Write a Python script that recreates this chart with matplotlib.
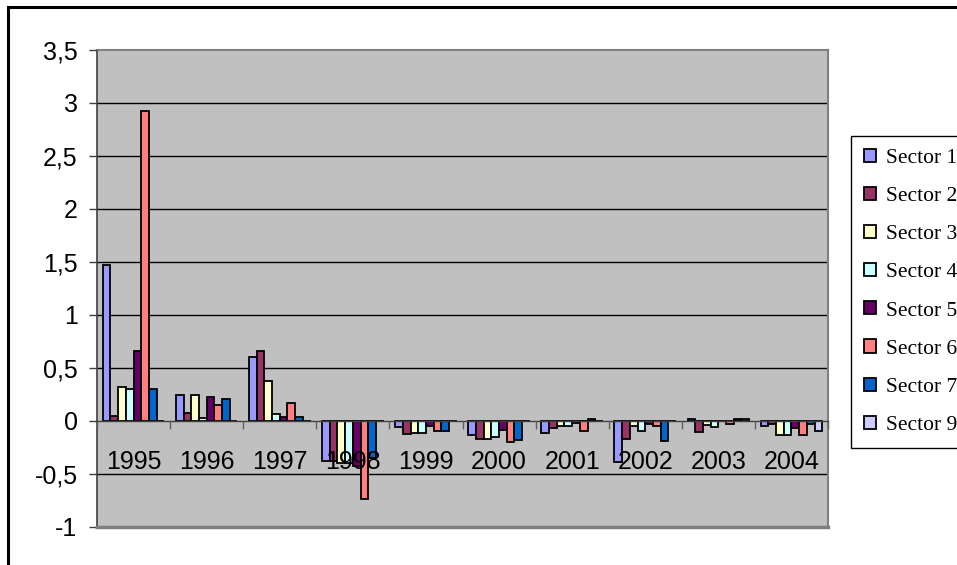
import matplotlib
matplotlib.use("Agg")
import matplotlib.pyplot as plt
import matplotlib.patches as mpatches
from matplotlib.ticker import FixedLocator, FuncFormatter
import numpy as np

# Yearly changes per sector
years = ["1995", "1996", "1997", "1998", "1999", "2000", "2001", "2002", "2003", "2004"]
sector_names = ["Sector 1", "Sector 2", "Sector 3", "Sector 4",
                "Sector 5", "Sector 6", "Sector 7", "Sector 9"]

sector_1 = [1.47, 0.245, 0.60, -0.38, -0.06, -0.13, -0.11, -0.39, 0.015, -0.05]
sector_2 = [0.05, 0.08, 0.66, -0.38, -0.12, -0.17, -0.07, -0.17, -0.10, -0.03]
sector_3 = [0.32, 0.245, 0.38, -0.40, -0.11, -0.17, -0.05, -0.045, -0.04, -0.13]
sector_4 = [0.30, 0.025, 0.07, -0.40, -0.11, -0.15, -0.05, -0.09, -0.06, -0.13]
sector_5 = [0.66, 0.23, 0.04, -0.42, -0.045, -0.085, -0.02, -0.03, 0.0, -0.065]
sector_6 = [2.92, 0.15, 0.17, -0.74, -0.09, -0.195, -0.095, -0.045, -0.025, -0.13]
sector_7 = [0.30, 0.205, 0.04, -0.35, -0.09, -0.18, 0.02, -0.19, 0.015, -0.03]
sector_9 = [0.0, 0.0, 0.0, 0.0, 0.0, 0.0, 0.0, 0.0, 0.015, -0.095]

series = [sector_1, sector_2, sector_3, sector_4,
          sector_5, sector_6, sector_7, sector_9]
colors = ["#9999FF", "#993366", "#FFFFCC", "#CCFFFF",
          "#660066", "#FF8080", "#0066CC", "#CCCCFF"]

y_ticks = [-1, -0.5, 0, 0.5, 1, 1.5, 2, 2.5, 3, 3.5]

W, H = 957, 565
fig = plt.figure(figsize=(W / 100, H / 100), dpi=100)
fig.patch.set_facecolor("white")

# outer chart frame (runs off the right and bottom edges)
fig.patches.append(mpatches.Rectangle((8 / W, -0.1), 1.2, 1 - 7 / H + 0.1,
                                      transform=fig.transFigure,
                                      fill=False, edgecolor="black",
                                      linewidth=2.2, clip_on=False))

left, right, top, bottom = 97, 828, 50, 527
ax = fig.add_axes([left / W, 1 - bottom / H, (right - left) / W, (bottom - top) / H])
ax.set_facecolor("#C0C0C0")

n = len(series)
gap = 1.5
bw = 1.0 / (n + gap)
x = np.arange(len(years))

# gridlines behind the bars
for yv in y_ticks:
    if yv not in (0, y_ticks[0], y_ticks[-1]):
        ax.axhline(yv, color="black", linewidth=1.0, zorder=0.5)

for i, (vals, col, name) in enumerate(zip(series, colors, sector_names)):
    ax.bar(x + (i - (n - 1) / 2) * bw, vals, width=bw, color=col,
           edgecolor="black", linewidth=1.3, label=name, zorder=1)

ax.set_xlim(-0.5, len(years) - 0.5)
ax.set_ylim(y_ticks[0], y_ticks[-1])

# frame
for s in ("top", "right"):
    ax.spines[s].set_color("#808080")
    ax.spines[s].set_linewidth(1.5)
ax.spines["left"].set_color("#404040")
ax.spines["left"].set_linewidth(1.2)
ax.spines["bottom"].set_position(("data", 0))
ax.spines["bottom"].set_color("#404040")
ax.spines["bottom"].set_linewidth(1.0)
# lower border of the plot area
ax.axhline(y_ticks[0], color="#808080", linewidth=2.5, zorder=3, clip_on=False)

ax.set_axisbelow(False)

ax.yaxis.set_major_locator(FixedLocator(y_ticks))
ax.yaxis.set_major_formatter(FuncFormatter(lambda v, p: ("%g" % v).replace(".", ",")))
ax.tick_params(axis="y", direction="out", length=6, width=1, color="#404040",
               pad=8, labelsize=18)
for lab in ax.get_yticklabels():
    lab.set_fontfamily("Liberation Sans")

ax.set_xticks(x)
ax.set_xticklabels(years, fontfamily="Liberation Sans", fontsize=18)
ax.tick_params(axis="x", which="major", length=0, pad=21)
ax.set_xticks(np.arange(len(years) + 1) - 0.5, minor=True)
ax.tick_params(axis="x", which="minor", direction="out", length=6, width=1,
               color="#606060")

leg = fig.legend(loc="upper left", bbox_to_anchor=(851 / W, 1 - 136 / H),
                 prop={"family": "Liberation Serif", "size": 15.5},
                 frameon=True, fancybox=False, shadow=False,
                 handlelength=0.56, handleheight=0.56, handletextpad=0.45,
                 borderpad=0.6, labelspacing=0.88, borderaxespad=0)
leg.get_frame().set_edgecolor("black")
leg.get_frame().set_linewidth(1.0)
leg.get_frame().set_facecolor("white")
leg.get_frame().set_alpha(1)

fig.savefig("out.png", dpi=100)
